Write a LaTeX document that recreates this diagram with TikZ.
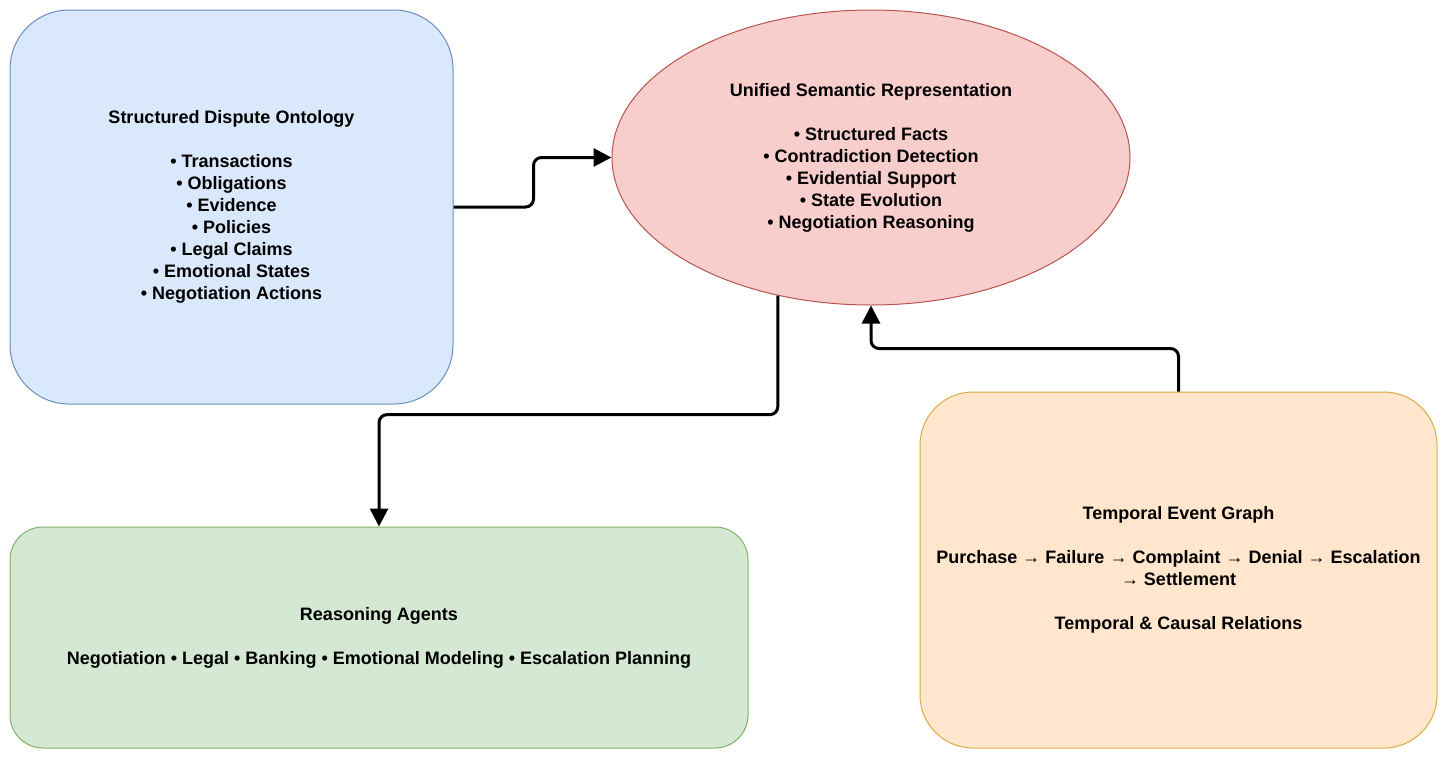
\documentclass[tikz,border=0pt]{standalone}
\usepackage{fontspec}
\setmainfont{Liberation Sans}
\usetikzlibrary{shapes.geometric,arrows.meta}

\definecolor{ontofill}{HTML}{DAE8FC}
\definecolor{ontodraw}{HTML}{6C8EBF}
\definecolor{usrfill}{HTML}{F8CECC}
\definecolor{usrdraw}{HTML}{B85450}
\definecolor{agentfill}{HTML}{D5E8D4}
\definecolor{agentdraw}{HTML}{82B366}
\definecolor{eventfill}{HTML}{FFE6CC}
\definecolor{eventdraw}{HTML}{DDAA44}

\tikzset{
  boxtext/.style={align=center,font=\fontsize{18}{22}\selectfont\bfseries,inner sep=0pt},
  ontobox/.style={boxtext,draw=ontodraw,fill=ontofill,line width=1pt,rounded corners=59pt,
    minimum width=443pt,minimum height=394pt},
  usrblob/.style={boxtext,ellipse,draw=usrdraw,fill=usrfill,line width=1pt,
    minimum width=518pt,minimum height=295pt},
  agentbox/.style={boxtext,draw=agentdraw,fill=agentfill,line width=1pt,rounded corners=33pt,
    minimum width=738pt,minimum height=221pt},
  eventbox/.style={boxtext,draw=eventdraw,fill=eventfill,line width=1pt,rounded corners=53pt,
    minimum width=517pt,minimum height=356pt},
  flow/.style={line width=3pt,rounded corners=8pt,-{Triangle[length=18pt,width=18pt]}}
}

\begin{document}
\begin{tikzpicture}[x=1pt,y=-1pt]
	\useasboundingbox (0,0) rectangle (1447,758);

	\node[ontobox] (onto) at (231.5,207) {Structured Dispute Ontology\\[22pt]
		• Transactions\\ • Obligations\\ • Evidence\\ • Policies\\
		• Legal Claims\\ • Emotional States\\ • Negotiation Actions};
	\node[usrblob] (usr) at (871,157.5) {Unified Semantic Representation\\[22pt]
		• Structured Facts\\ • Contradiction Detection\\ • Evidential Support\\
		• State Evolution\\ • Negotiation Reasoning};
	\node[agentbox] (agents) at (379,637.5) {Reasoning Agents\\[22pt]
		Negotiation • Legal • Banking • Emotional Modeling • Escalation Planning};
	\node[eventbox] (events) at (1178.5,570) {Temporal Event Graph\\[22pt]
		Purchase → Failure → Complaint → Denial → Escalation\\ → Settlement\\[22pt]
		Temporal \& Causal Relations};

	\draw[flow] (onto.east) -- ++(80,0) |- (usr.west);
	\draw[flow] (usr.236) -- ++(0,119) -| (agents.north);
	\draw[flow] (events.north) -- ++(0,-43) -| (usr.south);
\end{tikzpicture}
\end{document}
